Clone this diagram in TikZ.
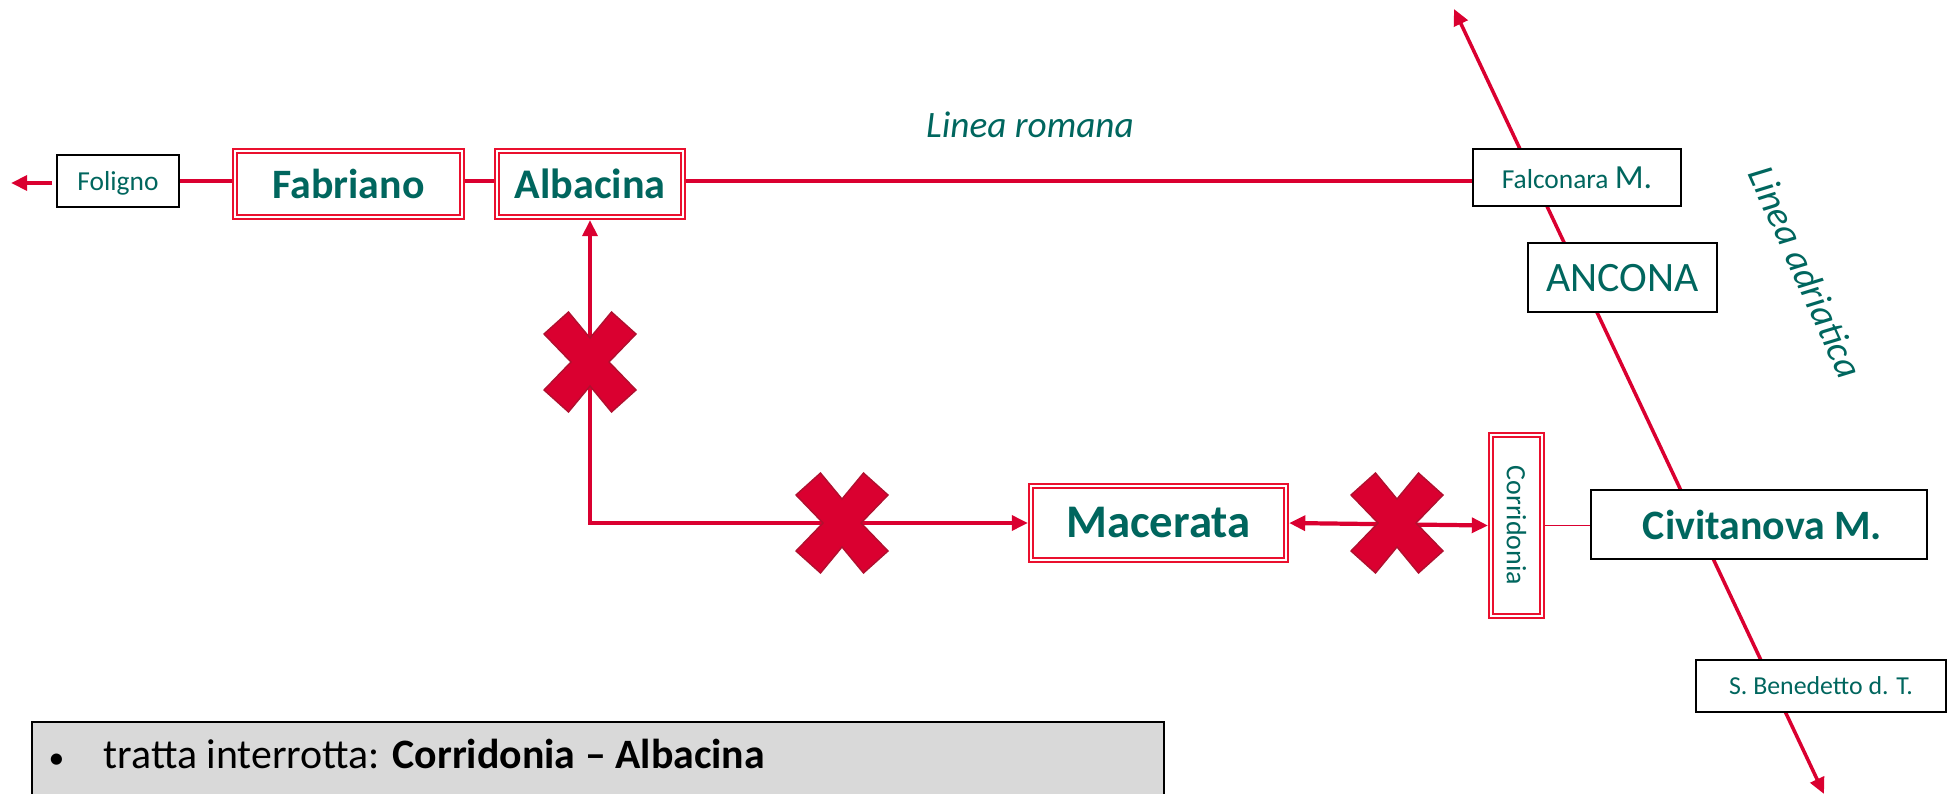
\documentclass[tikz,border=0pt]{standalone}
\usepackage{fontspec}
\setmainfont{Carlito}
\usetikzlibrary{arrows.meta}
\definecolor{trackred}{HTML}{DA0030}
\definecolor{boxred}{HTML}{EA102E}
\definecolor{crossedge}{HTML}{B0102F}
\definecolor{labelteal}{HTML}{00665E}
\definecolor{notegrey}{HTML}{D9D9D9}
\tikzset{
  station/.style={draw=black, line width=0.6pt, fill=white, text=labelteal, inner sep=0pt, outer sep=0.3pt, text depth=0pt},
  junction/.style={draw=boxred, line width=0.55pt, double=white, double distance=0.7pt, fill=white, text=labelteal, inner sep=0pt, outer sep=0.85pt},
  track/.style={draw=trackred, line width=1.2pt},
  tip/.style={-{Triangle[length=4.6pt,width=4.2pt]}},
  twotips/.style={{Triangle[length=4.6pt,width=4.2pt]}-{Triangle[length=4.6pt,width=4.2pt]}}
}
\begin{document}
\begin{tikzpicture}[x=0.01cm,y=-0.01cm]%
%
\useasboundingbox (0,0) rectangle (1948,794);
%
\def\drawcross(#1,#2)% Syntax: (center)
{ \draw[fill=trackred, draw=crossedge, line width=0.4pt, shift={(#1,#2)}]
  (0,-24) -- (21.5,-50) -- (46,-28) -- (19,0) -- (46,28) -- (21.5,50) -- (0,24)
  -- (-21.5,50) -- (-46,28) -- (-19,0) -- (-46,-28) -- (-21.5,-50) -- cycle; };
%
% linea adriatica, behind the boxes
\coordinate (adriaticaN) at (1454,9);
\coordinate (adriaticaS) at (1824,794);
\draw [track, line width=1pt, twotips] (adriaticaN) -- (adriaticaS);
%
\node [station, minimum width=1.22cm, minimum height=0.52cm, font=\fontsize{7.8}{9}\selectfont] (foligno) at (118,181) {Foligno};
\node [junction, minimum width=2.27cm, minimum height=0.66cm, font=\fontsize{11.9}{14}\selectfont\bfseries] (fabriano) at (348.5,184) {Fabriano};
\node [junction, minimum width=1.86cm, minimum height=0.66cm, font=\fontsize{12}{14}\selectfont\bfseries] (albacina) at (590,184) {Albacina};
\node [station, minimum width=2.08cm, minimum height=0.57cm, font=\fontsize{7.8}{9}\selectfont] (falconara) at (1577,177.5) {Falconara {\fontsize{9.6}{9}\selectfont M.}};
\node [station, minimum width=1.89cm, minimum height=0.69cm, font=\fontsize{11.9}{14}\selectfont] (ancona) at (1622.5,277.5) {ANCONA};
\node [junction, minimum width=2.55cm, minimum height=0.74cm, font=\fontsize{13.3}{15}\selectfont\bfseries] (macerata) at (1158.5,523) {Macerata};
\node [junction, rotate=-90, minimum width=1.81cm, minimum height=0.51cm, font=\fontsize{7.95}{9}\selectfont] (corridonia) at (1516.5,525.5) {Corridonia};
\node [station, minimum width=3.36cm, minimum height=0.69cm, font=\fontsize{11.9}{14}\selectfont\bfseries] (civitanova) at (1759,524.5) {\hspace{2pt}Civitanova M.};
\node [station, minimum width=2.50cm, minimum height=0.52cm, font=\fontsize{7.35}{9}\selectfont] (benedetto) at (1821,686) {S. Benedetto d. T.};
%
% linea romana
\coordinate (folignoE) at (52,183);
\coordinate (folignoW) at (11,183);
\draw [track, tip] (folignoE) -- (folignoW);
\draw [track] (foligno.east) -- (fabriano.west |- foligno.east);
\draw [track] (fabriano.east |- foligno.east) -- (albacina.west |- foligno.east);
\draw [track] (albacina.east |- foligno.east) -- (falconara.west |- foligno.east);
%
% tratta interrotta
\draw [track, twotips] (albacina.south) |- (macerata.west);
\draw [track, twotips] (macerata.east) -- (corridonia.south);
\draw [track, line width=0.4pt] (corridonia.north) -- (civitanova.west |- corridonia.north);
%
\drawcross(590,362);
\drawcross(842,523);
\drawcross(1397,523);
%
\node [text=labelteal, font=\fontsize{10.6}{13}\selectfont\itshape] (romana) at (1030,125) {Linea romana};
\node [text=labelteal, rotate=-66, font=\fontsize{10.8}{13}\selectfont\itshape] (adriatica) at (1806,272) {Linea adriatica};
%
\draw [fill=notegrey, draw=black, line width=0.6pt] (32,794) -- (32,722) -- (1164,722) -- (1164,794);
\node [anchor=base west, inner sep=0pt, font=\fontsize{11.9}{14}\selectfont] (note) at (48,768) {\makebox[15.6pt][l]{\fontsize{9}{9}\selectfont\textbullet}tratta interrotta: \textbf{Corridonia – Albacina}};
%
\end{tikzpicture}
\end{document}
